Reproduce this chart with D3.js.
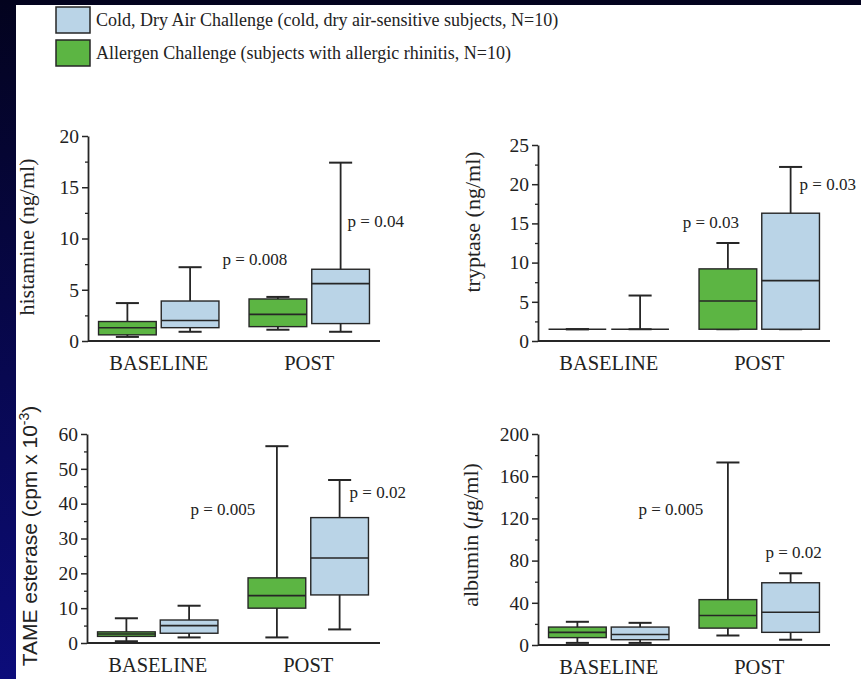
<!DOCTYPE html>
<html>
<head>
<meta charset="utf-8">
<script src="https://cdn.jsdelivr.net/npm/d3@7"></script>
<style>
  html, body { margin: 0; padding: 0; background: #06062a; }
  svg { display: block; }
  .tick text { font-family: "Liberation Serif", "Times New Roman", serif; }
</style>
</head>
<body>
<svg id="chart" width="861" height="679"></svg>
<script>
var groups = ['BASELINE', 'POST'];
var seriesKeys = ['allergen', 'cold'];
var legendLabels = [
  'Cold, Dry Air Challenge (cold, dry air-sensitive subjects, N=10)',
  'Allergen Challenge (subjects with allergic rhinitis, N=10)'
];

// [min, q1, median, q3, max] for BASELINE then POST
var histamineAllergen = [[0.4, 0.6, 1.3, 1.9, 3.7], [1.1, 1.4, 2.6, 4.1, 4.3]];
var histamineCold = [[0.9, 1.3, 2.0, 3.9, 7.2], [0.9, 1.7, 5.6, 7.0, 17.4]];
var tryptaseAllergen = [[1.5, 1.5, 1.5, 1.5, 1.5], [1.5, 1.5, 5.1, 9.2, 12.5]];
var tryptaseCold = [[1.5, 1.5, 1.5, 1.5, 5.8], [1.5, 1.5, 7.7, 16.3, 22.2]];
var tameAllergen = [[0.5, 1.9, 2.6, 3.2, 7.1], [1.6, 10.0, 13.6, 18.7, 56.5]];
var tameCold = [[1.6, 2.8, 5.0, 6.6, 10.7], [3.9, 13.8, 24.4, 36.0, 46.8]];
var albuminAllergen = [[2, 7, 12, 17, 22], [9, 16, 28, 43, 173]];
var albuminCold = [[2, 5, 10, 17, 21], [5, 12, 31, 59, 68]];

var histamineTicks = [0, 5, 10, 15, 20];
var tryptaseTicks = [0, 5, 10, 15, 20, 25];
var tameTicks = [0, 10, 20, 30, 40, 50, 60];
var albuminTicks = [0, 40, 80, 120, 160, 200];

// p labels: text, and height in data units (allergen, cold)
var histamineP = ['p = 0.008', 'p = 0.04'];
var histaminePAt = [7.4, 11.1];
var tryptaseP = ['p = 0.03', 'p = 0.03'];
var tryptasePAt = [14.4, 19.3];
var tameP = ['p = 0.005', 'p = 0.02'];
var tamePAt = [36.7, 41.6];
var albuminP = ['p = 0.005', 'p = 0.02'];
var albuminPAt = [123, 82.5];

var blueFill = '#bad4e7';
var greenFill = '#5cb543';
var ink = '#262626';

var svg = d3.select('#chart');

var defs = svg.append('defs');
var bg = defs.append('linearGradient')
  .attr('id', 'bg')
  .attr('x1', 0).attr('y1', 0).attr('x2', 0).attr('y2', 1);
bg.append('stop').attr('offset', '0%').attr('stop-color', '#03031e');
bg.append('stop').attr('offset', '100%').attr('stop-color', '#0c0c7a');

svg.append('rect').attr('width', 861).attr('height', 679).attr('fill', 'url(#bg)');
svg.append('rect').attr('x', 16).attr('y', 5).attr('width', 845).attr('height', 674).attr('fill', '#ffffff');

// legend
var legend = svg.append('g').attr('class', 'legend');
var legendFill = [blueFill, greenFill];
legendLabels.forEach(function (label, i) {
  var y = 7 + i * 33;
  legend.append('rect')
    .attr('x', 56).attr('y', y)
    .attr('width', 34).attr('height', 26)
    .attr('fill', legendFill[i])
    .attr('stroke', ink).attr('stroke-width', 1.5);
  legend.append('text')
    .attr('x', 96).attr('y', y + 19)
    .style('font-family', '"Liberation Serif", serif')
    .style('font-size', '18px')
    .attr('fill', '#222')
    .text(label);
});

var panels = [
  { allergen: histamineAllergen, cold: histamineCold, ticks: histamineTicks, max: 20,
    x0: 88, x1: 380, yBottom: 341, yTop: 136,
    p: histamineP, pAt: histaminePAt, pDx: [-23, 7], pAnchor: ['middle', 'start'],
    label: 'histamine (ng/ml)', labelX: 34, labelY: 237 },
  { allergen: tryptaseAllergen, cold: tryptaseCold, ticks: tryptaseTicks, max: 25,
    x0: 538, x1: 830, yBottom: 341, yTop: 145,
    p: tryptaseP, pAt: tryptasePAt, pDx: [-17, 9], pAnchor: ['middle', 'start'],
    label: 'tryptase (ng/ml)', labelX: 480, labelY: 222 },
  { allergen: tameAllergen, cold: tameCold, ticks: tameTicks, max: 60,
    x0: 87, x1: 380, yBottom: 643, yTop: 434,
    p: tameP, pAt: tamePAt, pDx: [-54, 10], pAnchor: ['middle', 'start'],
    label: 'tame', labelX: 37, labelY: 536 },
  { allergen: albuminAllergen, cold: albuminCold, ticks: albuminTicks, max: 200,
    x0: 538, x1: 830, yBottom: 645, yTop: 434,
    p: albuminP, pAt: albuminPAt, pDx: [-57, 3], pAnchor: ['middle', 'middle'],
    label: 'albumin', labelX: 478, labelY: 535 }
];

panels.forEach(function (cfg) {
  var g = svg.append('g');

  var xScale = d3.scaleBand()
    .domain(groups)
    .range([cfg.x0, cfg.x0 + 292])
    .paddingInner(0.2)
    .paddingOuter(0.07);

  var xInner = d3.scaleBand()
    .domain(seriesKeys)
    .range([0, xScale.bandwidth()])
    .paddingInner(0.08);

  var yScale = d3.scaleLinear()
    .domain([0, cfg.max])
    .range([cfg.yBottom, cfg.yTop]);

  // minor ticks
  var step = cfg.ticks[1] - cfg.ticks[0];
  var minor = cfg.ticks.slice(1).map(function (t) { return t - step / 2; });
  g.append('g')
    .attr('transform', 'translate(' + cfg.x0 + ',0)')
    .call(d3.axisLeft(yScale).tickValues(minor).tickSize(3).tickSizeOuter(0).tickFormat(''))
    .call(function (a) {
      a.select('.domain').remove();
      a.selectAll('line').attr('stroke', ink).attr('stroke-width', 1.3);
    });

  var yAxis = g.append('g')
    .attr('class', 'y axis')
    .attr('transform', 'translate(' + cfg.x0 + ',0)')
    .call(d3.axisLeft(yScale).tickValues(cfg.ticks).tickSize(6).tickSizeOuter(0).tickPadding(3));
  yAxis.select('.domain').attr('stroke', ink).attr('stroke-width', 1.8);
  yAxis.selectAll('.tick line').attr('stroke', ink).attr('stroke-width', 1.5);
  yAxis.selectAll('.tick text')
    .style('font-size', '19.5px')
    .attr('fill', '#222');

  // x axis line
  g.append('line')
    .attr('x1', cfg.x0).attr('x2', cfg.x1)
    .attr('y1', yScale(0)).attr('y2', yScale(0))
    .attr('stroke', ink).attr('stroke-width', 2);

  g.selectAll('.grouplabel')
    .data(groups)
    .enter()
    .append('text')
    .attr('class', 'grouplabel')
    .attr('x', function (d) { return xScale(d) + xScale.bandwidth() / 2; })
    .attr('y', yScale(0) + 29)
    .attr('text-anchor', 'middle')
    .style('font-family', '"Liberation Serif", serif')
    .style('font-size', '20.5px')
    .attr('fill', '#222')
    .text(function (d) { return d; });

  // boxes
  var boxes = [];
  groups.forEach(function (grp, gi) {
    seriesKeys.forEach(function (key) {
      boxes.push({ group: grp, key: key, s: cfg[key][gi] });
    });
  });

  var bw = xInner.bandwidth();
  var box = g.selectAll('.box')
    .data(boxes)
    .enter()
    .append('g')
    .attr('class', 'box')
    .attr('transform', function (d) {
      return 'translate(' + (xScale(d.group) + xInner(d.key)) + ',0)';
    });

  // whiskers
  box.append('line')
    .attr('x1', bw / 2).attr('x2', bw / 2)
    .attr('y1', function (d) { return yScale(d.s[0]); })
    .attr('y2', function (d) { return yScale(d.s[4]); })
    .attr('stroke', ink).attr('stroke-width', 1.8);
  [0, 4].forEach(function (k) {
    box.append('line')
      .attr('x1', bw * 0.3).attr('x2', bw * 0.7)
      .attr('y1', function (d) { return yScale(d.s[k]); })
      .attr('y2', function (d) { return yScale(d.s[k]); })
      .attr('stroke', ink).attr('stroke-width', 2);
  });

  box.append('rect')
    .attr('x', 0)
    .attr('width', bw)
    .attr('y', function (d) { return yScale(d.s[3]); })
    .attr('height', function (d) { return yScale(d.s[1]) - yScale(d.s[3]); })
    .attr('fill', function (d) { return d.key == 'cold' ? blueFill : greenFill; })
    .attr('stroke', ink).attr('stroke-width', 1.4);

  box.append('line')
    .attr('x1', 0).attr('x2', bw)
    .attr('y1', function (d) { return yScale(d.s[2]); })
    .attr('y2', function (d) { return yScale(d.s[2]); })
    .attr('stroke', ink).attr('stroke-width', 1.6);

  // p labels
  seriesKeys.forEach(function (key, i) {
    g.append('text')
      .attr('x', xScale('POST') + xInner(key) + bw / 2 + cfg.pDx[i])
      .attr('y', yScale(cfg.pAt[i]))
      .attr('text-anchor', cfg.pAnchor[i])
      .style('font-family', '"Liberation Serif", serif')
      .style('font-size', '17px')
      .attr('fill', '#222')
      .text(cfg.p[i]);
  });

  // y label
  var lab = g.append('text')
    .attr('transform', 'translate(' + cfg.labelX + ',' + cfg.labelY + ') rotate(-90)')
    .attr('text-anchor', 'middle')
    .attr('fill', '#222')
    .style('font-family', '"Liberation Serif", serif')
    .style('font-size', '22px');
  if (cfg.label == 'tame') {
    lab.style('font-family', '"Liberation Sans", Arial, sans-serif').style('font-size', '21px');
    lab.append('tspan').text('TAME esterase (cpm x 10');
    lab.append('tspan').attr('dy', -8).style('font-size', '14px').text('-3');
    lab.append('tspan').attr('dy', 8).text(')');
  } else if (cfg.label == 'albumin') {
    lab.append('tspan').text('albumin (');
    lab.append('tspan').style('font-style', 'italic').text('\u03bc');
    lab.append('tspan').text('g/ml)');
  } else {
    lab.text(cfg.label);
  }
});
</script>
</body>
</html>
